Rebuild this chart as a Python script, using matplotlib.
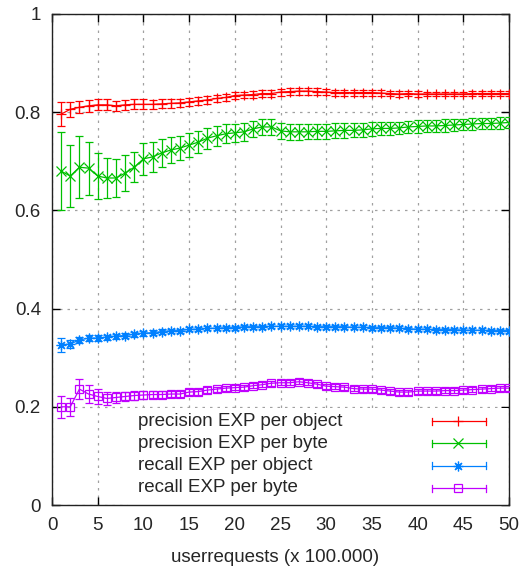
import matplotlib
matplotlib.use("Agg")
import matplotlib.pyplot as plt
from matplotlib.patches import Rectangle
import numpy as np

plt.rcParams['font.family'] = ['Liberation Sans', 'DejaVu Sans']

# userrequests (in units of 100.000)
requests = list(range(1, 51))

prec_obj = [0.796, 0.806, 0.810, 0.813, 0.815, 0.815, 0.813, 0.815, 0.816, 0.816,
            0.816, 0.817, 0.818, 0.819, 0.821, 0.823, 0.825, 0.828, 0.830, 0.834,
            0.835, 0.836, 0.838, 0.838, 0.841, 0.842, 0.843, 0.843, 0.842, 0.841,
            0.840, 0.840, 0.840, 0.840, 0.840, 0.839, 0.838, 0.837, 0.838, 0.837,
            0.837, 0.837, 0.837, 0.837, 0.837, 0.838, 0.838, 0.838, 0.838, 0.838]
prec_obj_err = [0.024, 0.015, 0.012, 0.012, 0.011, 0.011, 0.010, 0.010, 0.010, 0.010,
                0.009, 0.009, 0.009, 0.008, 0.008, 0.008, 0.008, 0.007, 0.007, 0.007,
                0.007, 0.007, 0.007, 0.007, 0.007, 0.007, 0.007, 0.007, 0.007, 0.006,
                0.006, 0.006, 0.006, 0.006, 0.006, 0.006, 0.006, 0.006, 0.006, 0.006,
                0.005, 0.005, 0.005, 0.005, 0.005, 0.005, 0.005, 0.005, 0.005, 0.005]

prec_byte = [0.680, 0.670, 0.688, 0.686, 0.670, 0.666, 0.666, 0.676, 0.688, 0.705,
             0.709, 0.717, 0.723, 0.727, 0.733, 0.739, 0.747, 0.752, 0.756, 0.758,
             0.760, 0.766, 0.770, 0.770, 0.762, 0.760, 0.760, 0.760, 0.761, 0.761,
             0.762, 0.763, 0.763, 0.764, 0.766, 0.767, 0.767, 0.768, 0.770, 0.771,
             0.772, 0.772, 0.773, 0.774, 0.775, 0.776, 0.777, 0.777, 0.778, 0.779]
prec_byte_err = [0.080, 0.064, 0.063, 0.054, 0.046, 0.041, 0.038, 0.036, 0.031, 0.032,
                 0.030, 0.028, 0.026, 0.025, 0.024, 0.022, 0.021, 0.020, 0.019, 0.018,
                 0.018, 0.017, 0.017, 0.017, 0.016, 0.016, 0.016, 0.015, 0.015, 0.015,
                 0.015, 0.015, 0.014, 0.014, 0.014, 0.014, 0.014, 0.013, 0.013, 0.013,
                 0.013, 0.013, 0.013, 0.012, 0.012, 0.012, 0.012, 0.012, 0.012, 0.012]

rec_obj = [0.326, 0.328, 0.336, 0.340, 0.340, 0.342, 0.344, 0.345, 0.348, 0.350,
           0.351, 0.353, 0.355, 0.355, 0.358, 0.358, 0.360, 0.360, 0.361, 0.361,
           0.363, 0.363, 0.363, 0.364, 0.364, 0.364, 0.364, 0.364, 0.363, 0.363,
           0.363, 0.363, 0.362, 0.362, 0.361, 0.361, 0.361, 0.360, 0.359, 0.358,
           0.358, 0.357, 0.357, 0.357, 0.356, 0.356, 0.356, 0.355, 0.355, 0.355]
rec_obj_err = [0.015, 0.008, 0.007, 0.006, 0.006, 0.005, 0.005, 0.005, 0.005, 0.005,
               0.005, 0.005, 0.004, 0.004, 0.004, 0.004, 0.004, 0.004, 0.004, 0.004,
               0.004, 0.004, 0.004, 0.004, 0.004, 0.004, 0.004, 0.004, 0.004, 0.004,
               0.004, 0.004, 0.004, 0.004, 0.004, 0.004, 0.004, 0.004, 0.004, 0.004,
               0.004, 0.004, 0.004, 0.004, 0.004, 0.004, 0.004, 0.004, 0.004, 0.004]

rec_byte = [0.200, 0.200, 0.236, 0.226, 0.221, 0.217, 0.219, 0.221, 0.223, 0.224,
            0.225, 0.225, 0.226, 0.226, 0.230, 0.231, 0.234, 0.236, 0.238, 0.239,
            0.240, 0.243, 0.245, 0.248, 0.249, 0.249, 0.251, 0.249, 0.246, 0.242,
            0.241, 0.240, 0.237, 0.236, 0.236, 0.234, 0.232, 0.230, 0.230, 0.232,
            0.232, 0.232, 0.233, 0.233, 0.234, 0.235, 0.236, 0.237, 0.238, 0.238]
rec_byte_err = [0.022, 0.018, 0.020, 0.018, 0.015, 0.013, 0.012, 0.010, 0.009, 0.008,
                0.007, 0.007, 0.006, 0.006, 0.006, 0.006, 0.006, 0.005, 0.005, 0.005,
                0.005, 0.005, 0.005, 0.005, 0.005, 0.005, 0.005, 0.005, 0.005, 0.005,
                0.005, 0.005, 0.005, 0.005, 0.005, 0.005, 0.005, 0.005, 0.005, 0.005,
                0.005, 0.005, 0.005, 0.005, 0.005, 0.005, 0.005, 0.005, 0.005, 0.005]

labels = ["precision EXP per object", "precision EXP per byte",
          "recall EXP per object", "recall EXP per byte"]
colors = ["#ff0000", "#00c000", "#0080ff", "#c000ff"]
markers = ["+", "x", (8, 2, 0), "s"]
msizes = [7, 6.5, 7, 5.5]

x_ticks = list(range(0, 51, 5))
y_ticks = [0, 0.2, 0.4, 0.6, 0.8, 1]
y_ticklabels = ["0", "0.2", "0.4", "0.6", "0.8", "1"]

FS = 13.5
TXT = "#262626"

W, H = 519, 571
fig = plt.figure(figsize=(W / 100, H / 100), dpi=100)
ax = fig.add_axes([52 / W, (H - 505) / H, (509 - 52) / W, (505 - 14) / H])

series = [(prec_obj, prec_obj_err), (prec_byte, prec_byte_err),
          (rec_obj, rec_obj_err), (rec_byte, rec_byte_err)]
for (vals, errs), c, m, ms in zip(series, colors, markers, msizes):
    ax.errorbar(requests, vals, yerr=errs, color=c, lw=0.9, elinewidth=0.9,
                capsize=2.6, capthick=0.9, marker=m, markersize=ms,
                markerfacecolor="none", markeredgecolor=c, markeredgewidth=0.9,
                zorder=3)

ax.set_xlim(0, 50)
ax.set_ylim(0, 1)
ax.set_xticks(x_ticks)
ax.set_xticklabels([str(v) for v in x_ticks])
ax.set_yticks(y_ticks)
ax.set_yticklabels(y_ticklabels)
ax.grid(True, color="#a0a0a0", linestyle=(0, (2, 4)), linewidth=0.9, zorder=0)
ax.set_axisbelow(True)
ax.tick_params(direction="in", length=6, width=1, top=True, right=True,
               labelsize=FS, pad=9, colors="#000000", labelcolor=TXT)
ax.tick_params(axis="y", pad=8)
for s in ax.spines.values():
    s.set_linewidth(1.0)
    s.set_color("#222222")
ax.set_xlabel("userrequests (x 100.000)", fontsize=FS, color=TXT)
ax.xaxis.set_label_coords((275.5 - 52) / (509 - 52), -(557 - 505) / 491)
ax.xaxis.label.set_va("center")

# key: opaque box in the lower part of the plot, text left, samples right
ax.add_patch(Rectangle(((128 - 52) / (509 - 52), 0.0), (508 - 128) / (509 - 52),
                       (505 - 408) / 491, transform=ax.transAxes,
                       facecolor="white", edgecolor="none", zorder=2))

def px_to_axes(px, py):
    return (px - 52) / (509 - 52), (505 - py) / 491

rows_y = [421, 443, 465.5, 488]
for lab, c, m, ms, ry in zip(labels, colors, markers, msizes, rows_y):
    tx, ty = px_to_axes(138, ry)
    ax.text(tx, ty, lab, transform=ax.transAxes, fontsize=FS, color=TXT,
            ha="left", va="center", zorder=4)
    x0, yk = px_to_axes(432, ry)
    x1, _ = px_to_axes(486, ry)
    xm, _ = px_to_axes(458, ry)
    ax.plot([x0, x1], [yk, yk], color=c, lw=0.9, transform=ax.transAxes, zorder=4)
    hh = 3.5 / 491
    for xe in (x0, x1):
        ax.plot([xe, xe], [yk - hh, yk + hh], color=c, lw=0.9,
                transform=ax.transAxes, zorder=4)
    ax.plot([xm], [yk], marker=m, markersize=ms, markerfacecolor="none",
            markeredgecolor=c, markeredgewidth=0.9, transform=ax.transAxes,
            zorder=4, clip_on=False)

fig.savefig("out.png", dpi=100, facecolor="white")
